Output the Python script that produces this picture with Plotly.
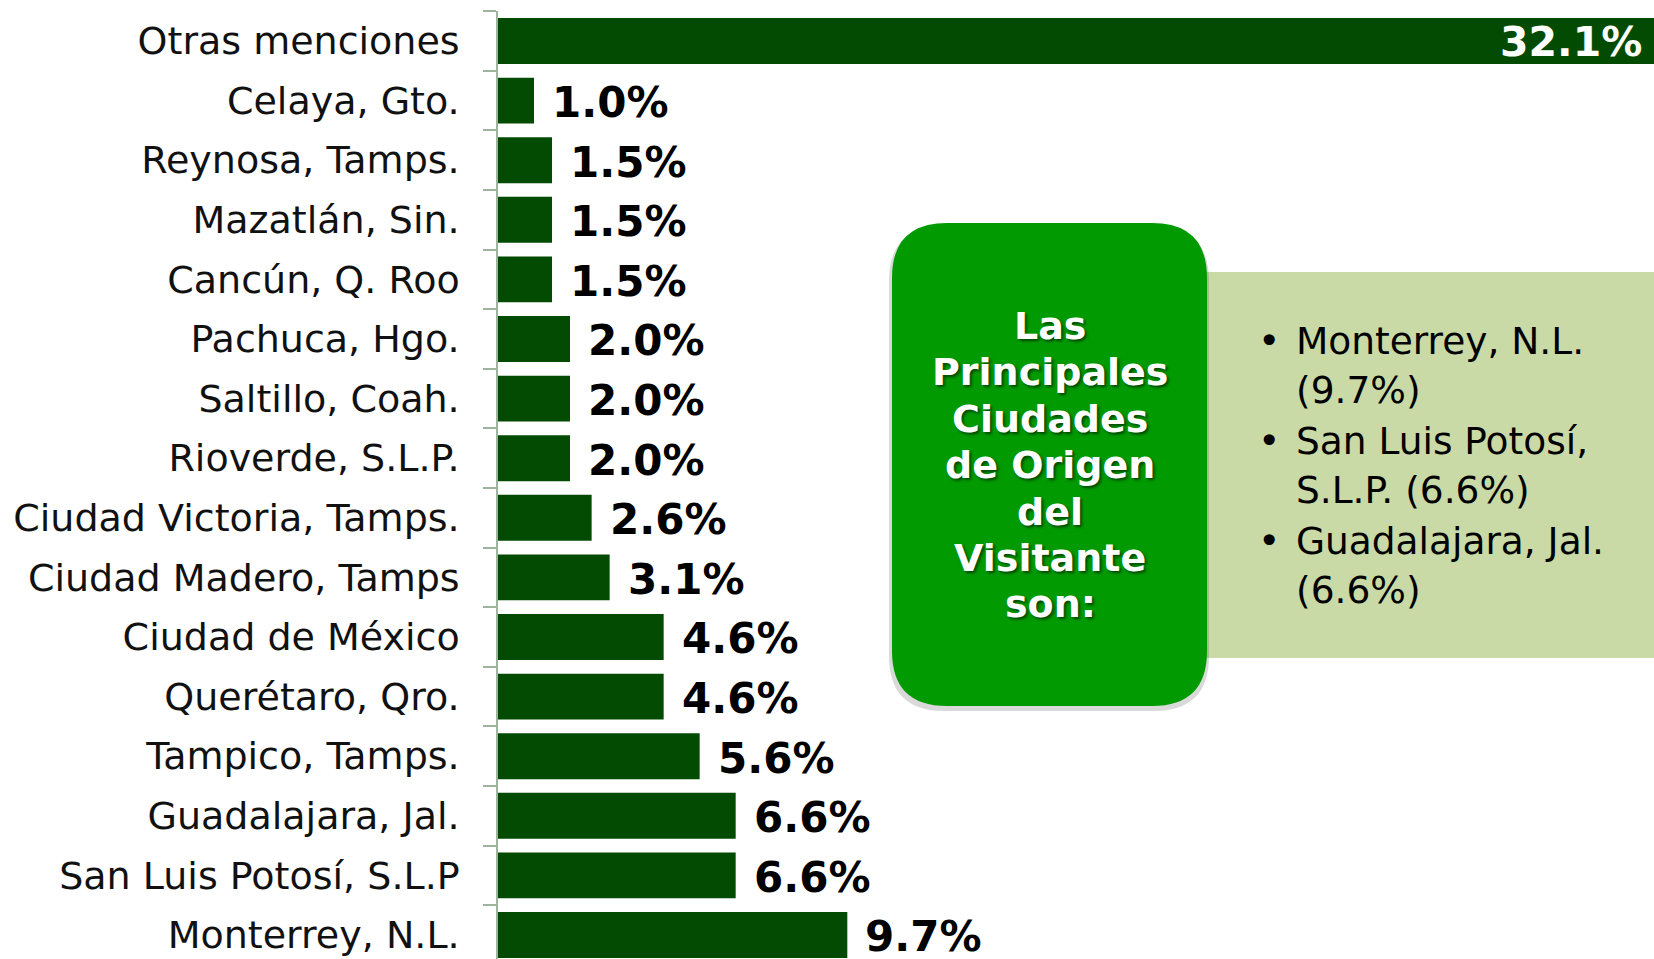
import plotly.graph_objects as go

# ---- data (bottom to top) ----
cities = ["Monterrey, N.L.", "San Luis Potosí, S.L.P", "Guadalajara, Jal.", "Tampico, Tamps.",
          "Querétaro, Qro.", "Ciudad de México", "Ciudad Madero, Tamps", "Ciudad Victoria, Tamps.",
          "Rioverde, S.L.P.", "Saltillo, Coah.", "Pachuca, Hgo.", "Cancún, Q. Roo",
          "Mazatlán, Sin.", "Reynosa, Tamps.", "Celaya, Gto.", "Otras menciones"]
values = [9.7, 6.6, 6.6, 5.6, 4.6, 4.6, 3.1, 2.6, 2.0, 2.0, 2.0, 1.5, 1.5, 1.5, 1.0, 32.1]

box_title_lines = ["Las", "Principales", "Ciudades", "de Origen", "del", "Visitante", "son:"]
top_items = ["Monterrey, N.L.<br>", "San Luis Potosí,<br>S.L.P. ", "Guadalajara, Jal.<br>"]
top_values = [9.7, 6.6, 6.6]

W, H = 1654, 959
L, R, T, B = 498, 0, 11, 0
PW, PH = W - L - R, H - T - B

def px(x):
    return (x - L) / PW

def py(y):
    return (H - B - y) / PH

def rrect(x0, y0, x1, y1, r):
    rx, ry = r / PW, r / PH
    a, b, c, d = px(x0), py(y1), px(x1), py(y0)  # left,bottom,right,top in paper
    return (f"M {a+rx},{d} L {c-rx},{d} Q {c},{d} {c},{d-ry} L {c},{b+ry} Q {c},{b} {c-rx},{b} "
            f"L {a+rx},{b} Q {a},{b} {a},{b+ry} L {a},{d-ry} Q {a},{d} {a+rx},{d} Z")

BAR = "#034B03"
fig = go.Figure()
fig.add_trace(go.Bar(x=values, y=cities, orientation="h", marker=dict(color=BAR, line=dict(width=0)),
                     hoverinfo="skip"))

annotations = []
for c, v in zip(cities, values):
    if v > 20:
        annotations.append(dict(x=v, y=c, xref="x", yref="y", text=f"{v:.1f}%", showarrow=False,
                                xanchor="right", xshift=-10, yshift=-1,
                                font=dict(family="DejaVu Sans", size=41, color="white", weight="bold")))
    else:
        annotations.append(dict(x=v, y=c, xref="x", yref="y", text=f"{v:.1f}%", showarrow=False,
                                xanchor="left", xshift=16, yshift=-2,
                                font=dict(family="DejaVu Sans", size=42, color="black", weight="bold")))

# green box title, one line per annotation
pitch = 46.4
y_first = 326
for i, line in enumerate(box_title_lines):
    annotations.append(dict(x=px(1050), y=py(y_first + i * pitch), xref="paper", yref="paper", text=line,
                            showarrow=False, xanchor="center", yanchor="middle", align="center",
                            font=dict(family="DejaVu Sans", size=38, color="white", weight="bold",
                                      shadow="2px 2px 3px rgba(0,0,0,0.55)")))
# bullets
item_y = [365, 465, 565]
first_y = [341, 441, 541]
for t, v, yc, yf in zip(top_items, top_values, item_y, first_y):
    annotations.append(dict(x=px(1294), y=py(yc), xref="paper", yref="paper", text=f"{t}({v}%)",
                            showarrow=False, xanchor="left", yanchor="middle", align="left",
                            font=dict(family="DejaVu Sans", size=37.5, color="black")))
    annotations.append(dict(x=px(1269), y=py(yf), xref="paper", yref="paper", text="•",
                            showarrow=False, xanchor="center", yanchor="middle",
                            font=dict(family="DejaVu Sans", size=38, color="black")))

shapes = [
    dict(type="rect", xref="paper", yref="paper", x0=px(1150), x1=px(1654), y0=py(658), y1=py(272),
         fillcolor="#C9DAA7", line=dict(width=0), layer="above"),
    dict(type="path", xref="paper", yref="paper", path=rrect(889, 226, 1209, 711, 55),
         fillcolor="rgba(0,0,0,0.15)", line=dict(width=0), layer="above"),
    dict(type="path", xref="paper", yref="paper", path=rrect(892, 223, 1207, 706, 55),
         fillcolor="#019B01", line=dict(width=0), layer="above"),
]

fig.update_layout(
    width=W, height=H, margin=dict(l=L, r=R, t=T, b=B, pad=0),
    paper_bgcolor="white", plot_bgcolor="white", showlegend=False,
    bargap=0.23, annotations=annotations, shapes=shapes,
    xaxis=dict(range=[0, 32.1], visible=False, fixedrange=True),
    yaxis=dict(type="category", range=[-0.403, 15.503], tickson="boundaries", ticks="outside",
               ticklen=13, tickwidth=1.5, tickcolor="#9DB59D", showline=True, linecolor="#9DB59D",
               linewidth=1.5, showgrid=False, ticklabelstandoff=29,
               tickfont=dict(family="DejaVu Sans", size=38, color="#111111"), fixedrange=True),
)

fig.write_html("out.html", config={"displayModeBar": False},
               post_script="document.body.style.margin='0';document.body.style.overflow='hidden';")
